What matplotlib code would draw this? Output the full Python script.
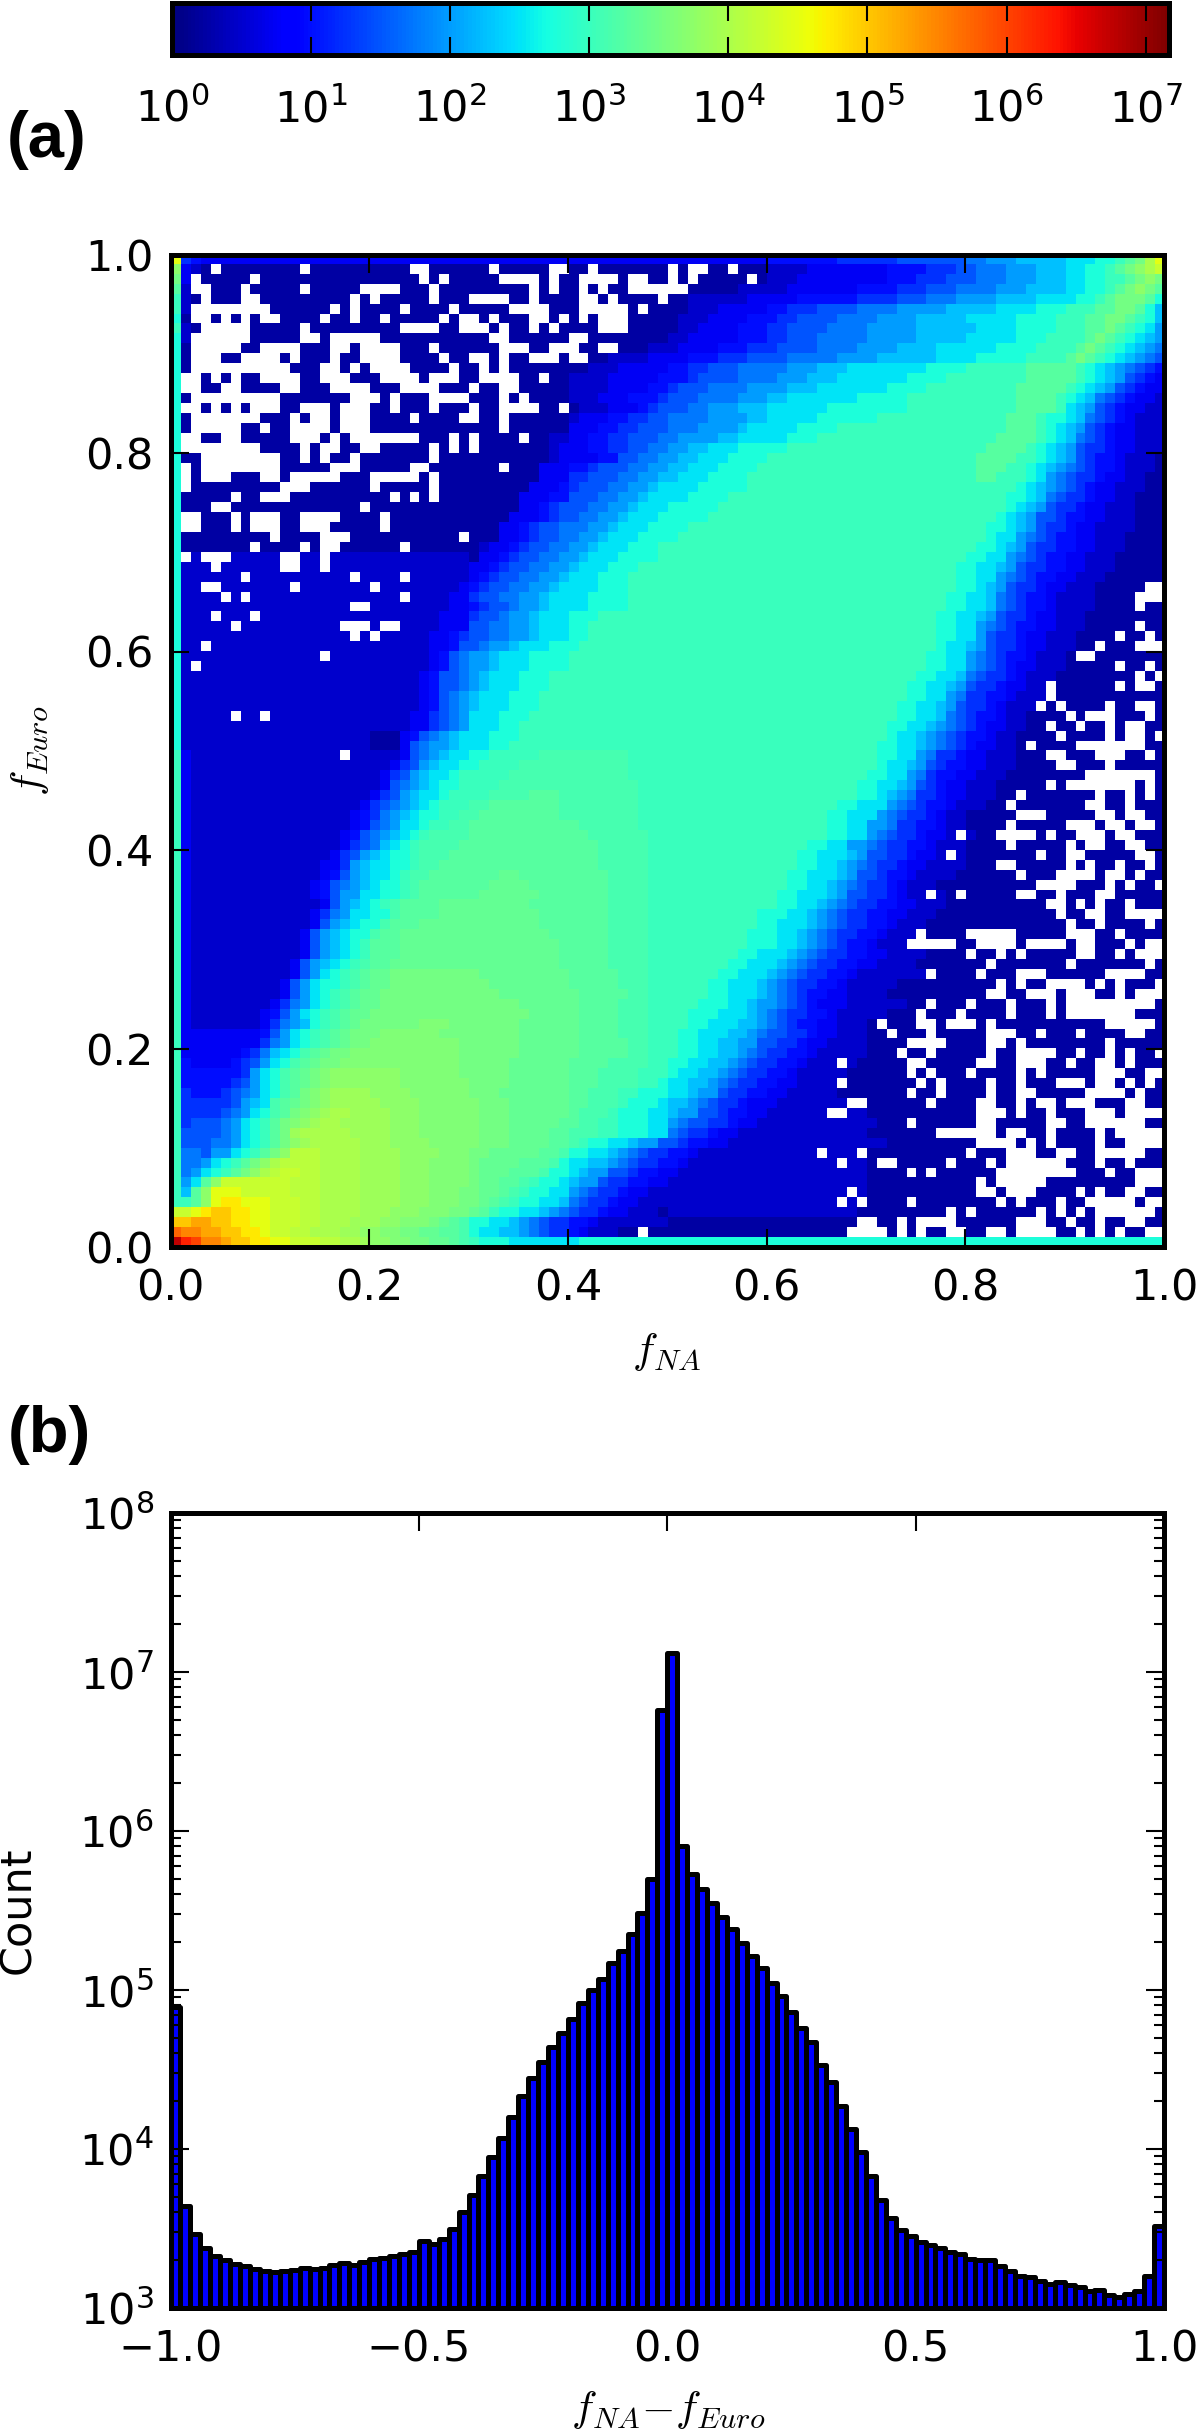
import numpy as np
import matplotlib
matplotlib.use("Agg")
import matplotlib.pyplot as plt
from matplotlib.colors import LogNorm
from matplotlib.ticker import NullLocator

# 2D histogram, one string per row, top row first.
# each char is log10(count) in steps of 0.25 ("0"=0, "4"=1, "c"=3, "o"=6),
# a capital is the half step above its lower case letter, "." is an empty cell
LEVELS = "0123456789abcdefghijklmnopqrs"
count_rows = [
    "i543333333 3333333333 3333333333 3333333333 3333333333 3333333333 4444444555 5556666666 7788899999 aaabbcdegi",
    "f321.11111 111.111111 1111..1111 11.11111.. 11.1111111 .1..11.111 2222333333 3344445556 6777888999 aabbcdefgh",
    "e3.11111.1 1111111111 11111.1.11 111....1.1 1....1..11 .1.11111.1 2223333333 3344455566 6777888999 aabbccdefe",
    "d2..111.11 111.11111. ...111.111 111111.1.1 1.1.11.... ..11111222 2233333334 4445556667 7778889999 aabbcdefed",
    "c21.111..1 11111111.1 .11111.111 ....11.111 1..1.1111. 1122222233 3334444445 5556667778 8889999aaa abbcdeeedb",
    "c2........ 111111.1.1 111.1111.1 1111....11 1.....1.11 1122233333 4455566667 7778888899 999aaaabbb cccddeedb9",
    "b1..1.1.1. .1111.11.1 1.11111.1. .1.111..1. 1.1...1111 1222333344 4556666777 7888899999 aaaaabbbbc ccddeedcb9",
    "c21.....11 111.111111 111....11. ..1.11.1.1 111...1111 1223333444 5566667777 8888899999 9aaaabbbbc ccddedcba8",
    "b2......11 111..1.... .111111111 11..111111 ..11111111 2233333444 5566677777 8888899999 aaaaabbbcc ccdedcba98",
    "b1.....11. ...111..1. ...111.111 111...11.. .11..11122 2333344455 5666677778 8889999aaa aaabbbbccc cdedcba987",
    "b1...11... .1.111.11. ...1111.11 ..1.11...1 ..11222233 3344455566 6677777888 8999999aaa abbbbbcccc dedcba9876",
    "b1........ ..111..1.1 ....1111.1 1.1.111111 1122233333 4455666777 77888999aa aaaaaabbbb ccccccdddd dcba987654",
    "b..1.1.11. ...11...11 1....1...1 1....11.11 2222333334 4456666777 7888999aaa aaaabbbbcc ccccccdddd dcba986543",
    "b..11..111 1..111.... 111....111 .11..11111 2222333344 5666777788 88999aaaaa aabbbbcccc cccccddddd cba9865433",
    "b1........ .1111111.. .1.111.... 111.1.1111 2223334445 6667777888 99aaaaaaab bbbbcccccc cccccddddc ba97654332",
    "b..1.1.1.. .11...1... 11.111.111 .11....11. 1222333456 6677888999 aaaaaabbbb bbbbcccccc cccccddddc a986543322",
    "b1.......1 11.1..1... 1111.1111. .11.111111 2333445566 7777888899 aaaaabbbbb bccccccccc ccccdddcbb a976543222",
    "b1.....11. 11....1... 1111111111 111.111111 3334455666 77788889aa aaabbbbccc cccccccccc ccccdddcba 9865433222",
    "b..11..111 11...1.1.. .....111.1 .1111.1122 3344556667 7888899aaa aabbbccccc cccccccccc cccddddcba 9765433222",
    "b........1 111.1..11. .11111.1.1 .111111123 3344556677 8899aaabbb bbcccccccc cccccccccc ccddddcba9 8655433222",
    "b11....... .11.1.11.1 111111.111 1111111123 3334466778 899aaabbbb cccccccccc cccccccccc cddddccba9 8654432221",
    "b.1....... .11111...1 1111..1111 111.111333 4456667788 99aaabbbbc cccccccccc cccccccccc cdddccba98 7654432221",
    "b.1...111. .1.....111 .....1.111 1111111333 5566677889 9aaabbbbcc cccccccccc cccccccccc cddcccba87 6554332211",
    "b.11111111 1...111111 .11111.111 1111113334 566677889a aaabbbbbcc cccccccccc cccccccccc cccccba987 6543322211",
    "b11111.11. ..11111111 11.1.1.111 1111133344 66677889aa aabbbbcccc cccccccccc cccccccccc ccccbba976 5543322111",
    "b111..1111 111111111. 1111111111 1111133456 6677889aaa bbbbbccccc cccccccccc cccccccccc ccccba9865 5433222111",
    "b..111.1.. .11....111 1.11111111 1111333456 677889aaab bbbbcccccc cccccccccc cccccccccc cccba98665 4433222111",
    "b..111.1.. .11...1111 1.11111111 1113345667 77889aaabb bbcccccccc cccccccccc cccccccccc ccbba98655 4332222111",
    "b111111111 .1111...11 111111111. 1113345667 7889aaabbb bccccccccc cccccccccc cccccccccc ccbaa87654 4332221111",
    "b1111111.1 111.1..111 111.111111 1233456677 889aaabbbc cccccccccc cccccccccc cccccccccc cbba986554 4332221111",
    "b.2...2222 2..22.2222 2222222222 1334566778 89aaabbbbc cccccccccc cccccccccc cccccccccc bbaa876544 3322211111",
    "b222.22222 2..22.2222 2222222222 3345667788 9aaabbbccc cccccccccc cccccccccc cccccccccb baa9865544 3322211111",
    "b222222.22 22222222.2 222.222222 3456677889 aaabbbcccc cccccccccc cccccccccc cccccccccb baa8765443 3222111111",
    "b22..22222 22.2222222 .222222223 456677889a aaabbbcccc cccccccccc cccccccccc cccccccccb ba98655433 22211111..",
    "b2222.2.22 2222222222 222.222233 56677889aa aabbbbcccc cccccccccc cccccccccc ccccccccbb aa97654432 2221111...",
    "b222222222 22222222.. 2222222233 45667889aa aabbbbcccc cccccccccc cccccccccc ccccccccbb aa97654432 2221111.11",
    "b222.222.2 2222222222 2222222333 5667889aaa bbbccccccc cccccccccc cccccccccc cccccccbba a986554332 2211111111",
    "b22222.222 2222222... 2..2222333 6677889aaa bbcccccccc cccccccccc cccccccccc cccccccbba a876544332 2211111.11",
    "b222222222 22222222.2 .222223345 6677889aaa bbcccccccc cccccccccc cccccccccc cccccccbba a865543322 21111.11.1",
    "b22.222222 2222222222 2222223346 67889aaabb bccccccccc cccccccccc cccccccccc cccccccbaa 9865543322 211.111...",
    "b222222222 22222.2222 2222223467 889aaabbbb cccccccccc cccccccccc cccccccccc ccccccbbaa 8765443222 1..1111111",
    "b2.2222222 2222222222 2222223467 889aaabbbb cccccccccc cccccccccc cccccccccc ccccccbbaa 8765433222 11111.11.1",
    "b222222222 2222222222 2222234667 89aaabbbcc cccccccccc cccccccccc cccccccccc cccccbbaa9 7655432221 1111111.1.",
    "b222222222 2222222222 2222234667 89aaabbbcc cccccccccc cccccccccc cccccccccc ccccbbaa98 65543322.1 11111.1..1",
    "b222222222 2222222222 2222234678 9aaabbbccc cccccccccc cccccccccc cccccccccc ccccbbaa87 55443222.1 1111111111",
    "b222222222 2222222222 2222234678 9aaabbbccc cccccccccc cccccccccc cccccccccc cccbbaa986 5543222.1. 1111.11..1",
    "b22222.22. 2222222222 2222335678 aaabbbcccc cccccccccc cccccccccc cccccccccc cccbbaa976 5443221111 .1...111.1",
    "b222222222 2222222222 2222335678 aaabbccccc cccccccccc cccccccccc cccccccccc ccbbaa9876 54332211.1 1.11.1..11",
    "b222222222 2222222222 111346789a aabbbccccc cccccccccc cccccccccc cccccccccc ccbaa98765 443221111. 1111.1..1.",
    "b222222222 2222222222 111367889a aabbcccccc cccccccccc cccccccccc cccccccccc cbbaa98765 433221.111 1.......11",
    "c322222222 2222222.22 22236789aa bbcccccCCC CCCCCCcccc cccccccccc cccccccccc cbbaa87554 33222111.. 111...11.1",
    "c322222222 2222222222 2235689aab bccccCCCCC CCCCCCcccc cccccccccc cccccccccc cbaa986544 332221111. .111.11111",
    "c322222222 2222222222 235689aabc ccccCCCCCC CCCCCCcccc cccccccccc cccccccccc bbaa875443 3222111111 11.......1",
    "c322222222 2222222222 236789abbc cccCCCCCCC CCCCCCCccc cccccccccc cccccccccb baa9865433 22211111.1 .......1.1",
    "c322222222 2222222222 35689aabcc ccCCCCdddC CCCCCCCccc cccccccccc cccccccccb ba98755433 22211.1111 111.11.1.1",
    "c322222222 2222222223 56789abccc CCdddddddC CCCCCCCccc cccccccccc cccccccbba aa87654432 2211.11111 11..11.111",
    "c322222222 2222222234 5789abbccC CddddddddC CCCCCCCccc cccccccccc ccccccbbaa a876554322 11111...11 111..1..11",
    "c322222222 2222222234 678aabccCC dddddddddd dCCCCCCccc cccccccccc ccccccbbaa 8875544322 1111.11111 ...1..1..1",
    "c322222222 2222222346 789abcCCCC dddddddddd ddCCCCCCcc cccccccccc ccccccbbaa 876554332. 211....1.1 1...1..111",
    "c322222222 2222222356 79abcCCCCd dddddddddd dddCCCCCcc cccccccccc ccccbbaa88 7655443222 1111.11111 .1..11..11",
    "c322222222 2222223568 9abbcCCCdd dddddddddd dddCCCCCcc cccccccccc cccbbaaa98 66554332.2 1111111.11 ..11111..1",
    "c322222222 2222233589 aabbcCCddd dddddddddd dddCCCCCcc cccccccccc cccbbaa987 6554332222 111..11111 .1.11.11.1",
    "c322222222 2222234689 aabcCCdddd dddDDddddd ddddCCCCcc cccccccccc ccbbaaa986 6544322221 11111.111. ...1..1.11",
    "c322222222 2222346789 abbcCddddd ddDDDDdddd ddddCCCCcc cccccccccc ccbbaa9876 5543222111 1111111... .111.1.11.",
    "c322222222 222234688a abbcCddddd dDDDDDDddd ddddCCCCcc cccccccccc cbbaaa9866 554322.21. 11111..11. 111..11111",
    "c322222222 222223689a bcCddddDDD DDDDDDdddd ddddCCCCcc cccccccccc cbbaa98765 5443322211 11111111.. 1.1.11.111",
    "c322222222 22223578aa bbCddddDDD DDDDDDDddd ddddCCCCcc cccccccccb bbaa987655 4433222111 111111111. 11..11....",
    "c322222222 22223689ab bCdddDDDDD DDDDDDDddd ddddCCCCcc cccccccccb baaa987655 4432221111 1111111111 .11.1111.1",
    "c322222222 2223689abb CddDDDDDDD DDDDDDDDdd ddddCCCCcc ccccccccbb baa9876554 43222.1111 .....11111 ...11.1111",
    "c322222222 2223689abc dddDDDDDDD DDDDDDDDDd ddddCCCCcc ccccccccbb baa9876544 3222.....1 1....1.... 1..111.1..",
    "c322222222 2223689abc dddDDDDDDD DDDDDDDDDd ddddCCCCcc cccccccbba aa98765544 3322221111 .11.1.1111 1..11.1...",
    "c322222222 223689abcC ddDDDDDDDD DDDDDDDDDd ddddCCCCcc ccccccbbaa a987655443 3222211111 11.1111111 .1111111.1",
    "c322222222 22368abcCd DDeeeeeeee eDDDDDDDDD dddddCCCcc cccccbbaaa 9876554432 222222.111 1.111...11 1111....11",
    "c322222222 2368abbcCd DDeeeeeeee eeDDDDDDDD dddddCCCcc ccccbbaaa9 8765544322 2221111111 111.1.11.. ..1.1.111.",
    "c322222222 2368abcCdD Deeeeeeeee eeeDDDDDDD DdddddCCcc ccccbbaaa9 8765443322 2211111111 11..11...1 ...11.1...",
    "c322222222 3578abcCdD Deeeeeeeee eeeeeDDDDD DddddCCCcc cccbbbaa98 8765433322 222211.111 .111.111.1 .........1",
    "c322222223 468abcCdDD eeeeeeeeee eeeeeeDDDD DddddCCCcc ccbbbaaa98 7655443222 22111.111. 1111.111.1 .......111",
    "c322222223 5789bcCdDe eeeeeEEEee eeeeeDDDDD DddddCCCcc ccbbaaa998 7654433222 1.111..1.. .1.1111111 1111.....1",
    "c333333334 68abcCdDee eEEEEEEeee eeeeeDDDDD DddddCCCcc cbbaaa9987 6655433222 11.111.111 11...11.11 1.1111..11",
    "c333333335 78abcCdDee EEEEEEEEEe eeeeeDDDDD DdddddCCcc cbbaa99886 6554332222 1111....11 11..1.1111 1111.11111",
    "c333333457 9abCdDeeEE EEEEEEEEEe eeeeeDDDDD DdddddCCcc cbbaa99876 5544322222 111.11.111 11.11....1 1.11.1.11.",
    "c433334568 abCdDeeEEE EEEEEEEEEe eeeeDDDDDD ddddCCCCcc bbaa998765 5443222.21 1111..1111 1..11...11 .11..1.111",
    "c44444458a bCdDeEffff fffEEEEEEe eeeeDDDDDD dddCCCCccc baa9987655 4432222211 1111.1.111 .1111.1.11 111...11..",
    "c44444568a bCdDeEffff fffEEEEEEE eeeeDDDDDD dddCCCCccb aa99876554 4332222.11 11111.1.11 11.11.111. ..1..1.1.1",
    "c54445678a bCdeEfFFFF ffffEEEEEE eeeDDDDDDD ddCCCccbbb aa98865544 3322222111 1111.11.11 11.11..111 11....1.11",
    "c55555689a CdDeEfFFFF FffffEEEEE EeeeDDDDDD ddCCCcbbba 9987655433 32222222.. 111111.111 1..11.1..1 ...111..11",
    "c5555678ab CdeEfFggFF FFfffEEEEE EeeeDDDDDD dCCCcbbbaa 9886654433 222222..22 1111111111 1...1.11.1 11...1....",
    "c566678abc deEfFggFFF FFfffEEEEE EeeeDDDDDd dCCccbbbaa 8766554332 2222222222 2111.11111 1..11111.. 11......11",
    "c666678abc deFgggggFF FFfffEEEEE EeeeDDDDdd CCCccbbbaa 7655433222 2222222222 1111111... ...1..11.1 111.1.....",
    "c666778abc defFgggggF FFffffEEEE EeeeDDDDdd Ccbbaa9886 6544332222 2222222222 2211111111 1....1.1.1 111.11....",
    "c77688abcd efGGGggggF FFFffffEEE eeDDDDDddC bbaa987655 4432222222 22222.222. 1111111111 .111...11. .11.....11",
    "c778abcdef gGGGGggggF FFFfffEEEE eDDDDdddCb aa99876554 4322222222 2222222.22 1..11111.1 11.1...... 111.11.111",
    "c78abcdefg GhhGGggggF FFFfffEEEE eDDDdddCbb a988665443 3222222222 2222222222 1111.1.111 111....... .111.11...",
    "c8adfhhhhh hhGGGggggF FFFfffEEEE eDDddCcbba 9886554433 2222222222 2222222222 1111111111 1.1.....11 1111111...",
    "c9dfiiihhh hhGGGggggF FFFfffEEEe eDDdCcbbaa 8765543322 2222222222 22222222.2 1111111111 1..1...111 1.1.11..11",
    "ccdfijjiii hhhGGggggF FFFfffEEEe eDdCcbbaa9 7655433222 2222222222 2222222.2. 1111.11111 111.1.111. 11.....1..",
    "hhijkkjjii hhhGGggggF FFfffEEEee Ddcbbaa987 6554332221 2222222222 2222222221 11111111.1 .111111.1. 1.1......1",
    "kkllkkjjii hhhGGgggFF FffEEEeDdC bbaa987655 4432222222 1111111111 111111111. .11.1....1 11111...11 .11.11..11",
    "nmmllkkjji hhGGgggFFf fEEeeDDddC baa9987655 4322211.11 1111111111 11111111.. ..1.1.11.. 11..1....1 1.1.1.11..",
    "rpommlkkjj iihhhGGggF ffEEeeDDdC cbbbaaaaaa abbbbbbbbb bbbbbbbbbb bbbbbbbbbb bbbbbbbbbb bbbbbbbbbb bbbbbbbbbb",
]

# bar heights of the lower panel, 100 bins from -1 to 1
hist_counts = [
    77800, 4410, 2920, 2370, 2130, 2000, 1900, 1850, 1760, 1720,
    1690, 1720, 1740, 1790, 1770, 1790, 1860, 1910, 1860, 1940,
    2030, 2050, 2110, 2180, 2260, 2650, 2520, 2720, 3140, 4040,
    5160, 6730, 8870, 11670, 15800, 21400, 27800, 35400, 44100, 53300,
    65500, 82800, 99500, 118000, 147000, 177000, 224000, 306000, 501000, 5750000,
    13200000, 805000, 540000, 430000, 351000, 288000, 241000, 197000, 164000, 137000,
    110000, 91200, 72400, 57400, 46900, 33900, 26200, 18700, 13400, 9620,
    6790, 4780, 3680, 3110, 2820, 2590, 2490, 2370, 2260, 2200,
    2030, 1990, 2000, 1850, 1700, 1600, 1570, 1470, 1420, 1450,
    1400, 1350, 1270, 1290, 1200, 1170, 1230, 1270, 1600, 3270,
]

map_ticks = [0.0, 0.2, 0.4, 0.6, 0.8, 1.0]
hist_xticks = [-1.0, -0.5, 0.0, 0.5, 1.0]
cbar_ticks = [1e0, 1e1, 1e2, 1e3, 1e4, 1e5, 1e6, 1e7]

W, H = 1200, 2433
FS = 31


def box(x0, y0, x1, y1):
    return [x0 / W, 1 - y1 / H, (x1 - x0) / W, (y1 - y0) / H]


def parse_rows(rows):
    grid = np.full((100, 100), np.nan)
    for r, row in enumerate(rows):
        chars = row.replace(" ", "")[:100]
        for c, ch in enumerate(chars):
            if ch == ".":
                continue
            step = LEVELS.index(ch.lower())
            if ch.isupper():
                step += 0.5
            grid[r, c] = 10 ** (step * 0.25)
    return np.ma.masked_invalid(grid)


def style_axes(ax):
    for s in ax.spines.values():
        s.set_linewidth(3.6)
    ax.tick_params(which="major", direction="in", length=13, width=1.5, top=True, right=True,
                   labelsize=FS)
    ax.tick_params(which="minor", direction="in", length=7, width=1.5, top=True, right=True)
    ax.tick_params(axis="x", pad=15)
    ax.tick_params(axis="y", pad=12)


fig = plt.figure(figsize=(W / 100, H / 100), dpi=100)

ax_map = fig.add_axes(box(170.5, 254.5, 1164, 1247))
norm = LogNorm(vmin=1, vmax=1.46e7)
im = ax_map.imshow(parse_rows(count_rows), cmap="jet", norm=norm, origin="upper",
                   extent=[0, 1, 0, 1], aspect="auto", interpolation="nearest")
ax_map.set_xticks(map_ticks)
ax_map.set_yticks(map_ticks)
style_axes(ax_map)

cax = fig.add_axes(box(172, 2.5, 1168.5, 55))
cb = fig.colorbar(im, cax=cax, orientation="horizontal")
cb.set_ticks(cbar_ticks)
cax.xaxis.set_minor_locator(NullLocator())
cb.outline.set_linewidth(3.6)
cax.tick_params(which="major", direction="in", length=13, width=1.5, top=True, bottom=True,
                labelsize=FS, pad=24)

ax_hist = fig.add_axes(box(170.5, 1513, 1164, 2308))
edges = np.linspace(-1, 1, 101)
ax_hist.bar(edges[:-1], hist_counts, width=np.diff(edges), align="edge", color="#0000ff",
            edgecolor="black", linewidth=3.6, joinstyle="round", log=True)
ax_hist.set_xlim(-1, 1)
ax_hist.set_ylim(1e3, 1e8)
ax_hist.set_xticks(hist_xticks)
style_axes(ax_hist)

fig.text(667 / W, 1 - 1352 / H, r"$f_{NA}$", fontsize=FS, ha="center", va="center", math_fontfamily="cm")
fig.text(30 / W, 1 - 751 / H, r"$f_{Euro}$", fontsize=FS, ha="center", va="center", rotation=90,
         math_fontfamily="cm")
fig.text(668 / W, 1 - 2410 / H, r"$f_{NA}{-}f_{Euro}$", fontsize=FS, ha="center", va="center",
         math_fontfamily="cm")
fig.text(18 / W, 1 - 1910 / H, "Count", fontsize=FS, ha="center", va="center", rotation=90)
fig.text(47 / W, 1 - 140 / H, "(a)", fontsize=47, fontweight="bold", family="Liberation Sans",
         ha="center", va="center")
fig.text(49 / W, 1 - 1435 / H, "(b)", fontsize=47, fontweight="bold", family="Liberation Sans",
         ha="center", va="center")

fig.savefig("out.png", dpi=100)
